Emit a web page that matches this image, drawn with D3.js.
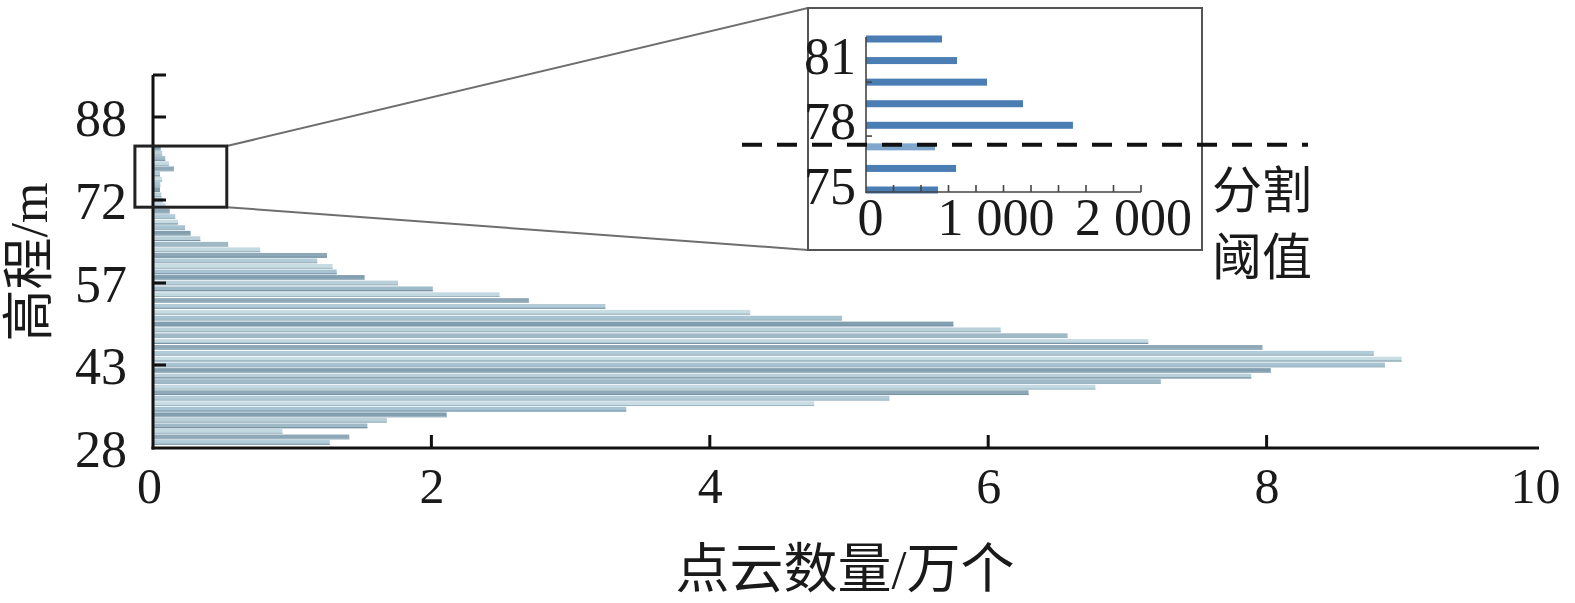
<!DOCTYPE html>
<html><head><meta charset="utf-8">
<script src="https://cdn.jsdelivr.net/npm/d3@7/dist/d3.min.js"></script>
<style>
html,body{margin:0;padding:0;background:#fff;}
svg{display:block;}
text{font-family:"Liberation Serif","Noto Sans CJK SC",serif;fill:#1a1a1a;}
</style></head>
<body>
<svg id="chart" width="1575" height="603"></svg>
<script>
// ---- Data ----
const elevations = d3.range(29, 83); // 29..82 m
const counts = [ // 万个 (x10^4 points) per 1 m elevation bin
  1.27, 1.41, 0.93, 1.54, 1.68, 2.11, 3.40, 4.75, 5.29, 6.29,
  6.77, 7.24, 7.89, 8.03, 8.85, 8.97, 8.77, 7.97, 7.15, 6.57,
  6.09, 5.75, 4.95, 4.29, 3.25, 2.70, 2.49, 2.01, 1.76, 1.52,
  1.32, 1.29, 1.18, 1.25, 0.77, 0.54, 0.34, 0.27, 0.23, 0.18,
  0.16, 0.12, 0.09, 0.07, 0.06, 0.05,
  0.0524, 0.0655, 0.0502, 0.1505, 0.1142, 0.0880, 0.0662, 0.0553
];
const yTickValues = [28, 43, 57, 72, 88];
const xTickValues = [0, 2, 4, 6, 8, 10];
const xLabel = "点云数量/万个";
const yLabel = "高程/m";

const insetElev = [75, 76, 77, 78, 79, 80, 81, 82];
const insetCounts = [524, 655, 502, 1505, 1142, 880, 662, 553]; // points
const insetYTicks = [75, 78, 81];
const insetXTicks = [0, 1000, 2000];
const threshold = 77.1;
const thresholdLabel = ["分割", "阈值"];
const zoomRange = {elevLo: 70.7, elevHi: 82.4, countLo: -0.13, countHi: 0.53};

// ---- Scales ----
const svg = d3.select("#chart");
const x = d3.scaleLinear().domain([0, 10]).range([153, 1545]);
const y = d3.scaleLinear().domain([28, 43, 57, 72, 88, 96]).range([448, 365, 283, 200, 117, 75]);

const palette = ["#b2cbd8", "#8ea8b7", "#c2d9e2", "#9fb9c7", "#b9d0d8", "#829fb0", "#a7c3d2", "#c8dde3"];
const barH = 4.8;

// ---- Main bars ----
const mainData = elevations.map((e, i) => ({e, v: counts[i], i}));
svg.append("g").selectAll("rect").data(mainData).join("rect")
  .attr("x", x(0))
  .attr("y", d => y(d.e) - barH / 2)
  .attr("width", d => x(d.v) - x(0))
  .attr("height", barH)
  .attr("fill", d => palette[d.i % palette.length]);
svg.append("g").selectAll("line").data(mainData).join("line")
  .attr("x1", x(0)).attr("x2", d => x(d.v))
  .attr("y1", d => y(d.e) + barH / 2 - 0.6).attr("y2", d => y(d.e) + barH / 2 - 0.6)
  .attr("stroke", d => d.i % 3 === 0 ? "#7a95a6" : "#9fb6c2").attr("stroke-width", 1.1);

// ---- Main axes ----
const xAxis = svg.append("g").attr("transform", `translate(0,${y(28)})`)
  .call(d3.axisBottom(x).tickValues(xTickValues).tickSize(0).tickFormat(d3.format("d")));
xAxis.select(".domain").remove();
xAxis.selectAll("text").attr("font-size", 50).attr("dy", "1.05em")
  .attr("dx", d => d === 10 ? -10 : (d === 0 ? -4 : 0));
svg.append("line").attr("x1", x(0) - 1.5).attr("x2", x(10) - 6).attr("y1", y(28)).attr("y2", y(28))
  .attr("stroke", "#111").attr("stroke-width", 3);
svg.append("g").selectAll("line").data(xTickValues.filter(v => v > 0 && v < 10)).join("line")
  .attr("x1", d => x(d)).attr("x2", d => x(d)).attr("y1", y(28)).attr("y2", y(28) - 13)
  .attr("stroke", "#111").attr("stroke-width", 3);

const yAxis = svg.append("g").attr("transform", `translate(${x(0)},0)`)
  .call(d3.axisLeft(y).tickValues(yTickValues).tickSize(0).tickPadding(26));
yAxis.select(".domain").remove();
yAxis.selectAll("text").attr("font-size", 52).attr("dy", "0.36em");
svg.append("line").attr("x1", x(0)).attr("x2", x(0)).attr("y1", y(96)).attr("y2", y(28) + 1.5)
  .attr("stroke", "#111").attr("stroke-width", 3);
svg.append("g").selectAll("line").data([43, 57, 72, 88, 96]).join("line")
  .attr("x1", x(0)).attr("x2", x(0) + 13).attr("y1", d => y(d)).attr("y2", d => y(d))
  .attr("stroke", "#111").attr("stroke-width", 3);

svg.append("text").attr("x", 845).attr("y", 588).attr("text-anchor", "middle")
  .attr("font-size", 54).text(xLabel);
svg.append("text").attr("transform", `translate(47,262) rotate(-90)`).attr("text-anchor", "middle")
  .attr("font-size", 52).text(yLabel);

// ---- Zoom box and connectors ----
const bx0 = x(zoomRange.countLo), bx1 = x(zoomRange.countHi);
const by0 = y(zoomRange.elevHi), by1 = y(zoomRange.elevLo);
const ix0 = 808, ix1 = 1202, iy0 = 8, iy1 = 250;
svg.append("line").attr("x1", bx1).attr("y1", by0).attr("x2", ix0).attr("y2", iy0)
  .attr("stroke", "#6e6e6e").attr("stroke-width", 2);
svg.append("line").attr("x1", bx1).attr("y1", by1).attr("x2", ix0).attr("y2", iy1)
  .attr("stroke", "#6e6e6e").attr("stroke-width", 2);
svg.append("rect").attr("x", bx0).attr("y", by0).attr("width", bx1 - bx0).attr("height", by1 - by0)
  .attr("fill", "none").attr("stroke", "#222").attr("stroke-width", 3);

// ---- Inset ----
svg.append("rect").attr("x", ix0).attr("y", iy0).attr("width", ix1 - ix0).attr("height", iy1 - iy0)
  .attr("fill", "#fff").attr("stroke", "#555").attr("stroke-width", 2);
const ux = d3.scaleLinear().domain([0, 2000]).range([866, 1141]);
const uy = d3.scaleLinear().domain([75, 82]).range([190, 39]);
const insetData = insetElev.map((e, i) => ({e, v: insetCounts[i]}));
svg.append("g").selectAll("rect").data(insetData).join("rect")
  .attr("x", ux(0)).attr("y", d => uy(d.e) - 3.5)
  .attr("width", d => ux(d.v) - ux(0)).attr("height", 7)
  .attr("fill", d => d.e === 77 ? "#7fa6cc" : "#4a7db3");

svg.append("line").attr("x1", ux(0)).attr("x2", ux(0)).attr("y1", 37).attr("y2", 193)
  .attr("stroke", "#444").attr("stroke-width", 1.6);
svg.append("line").attr("x1", ux(0)).attr("x2", ux(2000)).attr("y1", 192).attr("y2", 192)
  .attr("stroke", "#444").attr("stroke-width", 1.6);
svg.append("g").selectAll("line").data(d3.range(200, 2001, 200)).join("line")
  .attr("x1", d => ux(d)).attr("x2", d => ux(d)).attr("y1", 192).attr("y2", 185)
  .attr("stroke", "#444").attr("stroke-width", 1.6);
svg.append("g").selectAll("line").data([77.5, 80]).join("line")
  .attr("x1", ux(0)).attr("x2", ux(0) + 6).attr("y1", d => uy(d)).attr("y2", d => uy(d))
  .attr("stroke", "#444").attr("stroke-width", 1.6);

const iyAxis = svg.append("g").attr("transform", `translate(${ux(0)},0)`)
  .call(d3.axisLeft(uy).tickValues(insetYTicks).tickSize(0).tickPadding(10).tickFormat(d3.format("d")));
iyAxis.select(".domain").remove();
iyAxis.selectAll("text").attr("font-size", 52).attr("dy", "0.25em");
const ixAxis = svg.append("g").attr("transform", `translate(0,192)`)
  .call(d3.axisBottom(ux).tickValues(insetXTicks).tickSize(0).tickPadding(6)
    .tickFormat(d => d === 0 ? "0" : (d / 1000) + " 000"));
ixAxis.select(".domain").remove();
ixAxis.selectAll("text").attr("font-size", 52).attr("dy", "0.72em")
  .attr("dx", d => d === 0 ? 4 : -8);

// threshold dashed line
svg.append("line").attr("x1", 742).attr("x2", 1308).attr("y1", uy(threshold)).attr("y2", uy(threshold))
  .attr("stroke", "#111").attr("stroke-width", 4).attr("stroke-dasharray", "20,15");
svg.append("g").selectAll("text").data(thresholdLabel).join("text")
  .attr("x", 1212).attr("y", (d, i) => 208 + i * 67).attr("font-size", 50).text(d => d);
</script>
</body></html>
